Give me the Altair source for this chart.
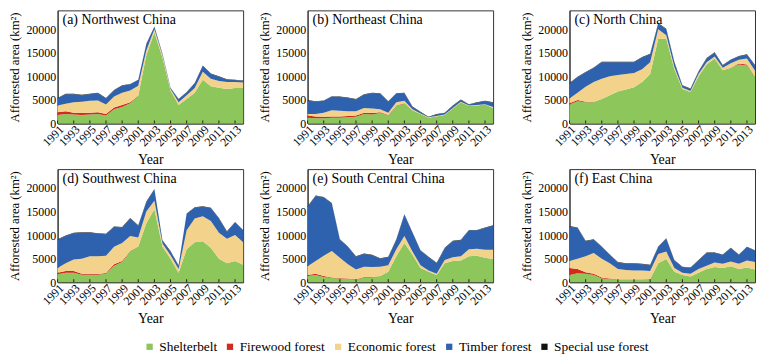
import altair as alt
import pandas as pd

years = list(range(1991, 2015))
tick_years = list(range(1991, 2014, 2))
categories = ["Shelterbelt", "Firewood forest", "Economic forest", "Timber forest", "Special use forest"]
colors = ["#8dc65b", "#d42a1e", "#f3d28c", "#2f62ae", "#111111"]
panel_titles = ["(a) Northwest China", "(b) Northeast China", "(c) North China",
                "(d) Southwest China", "(e) South Central China", "(f) East China"]

# (a) Northwest China
nw_shelter = [1800, 2000, 1900, 1800, 1900, 2000, 1700, 3000, 3500, 4300, 5800, 14500, 19300, 14000, 7000, 3900, 5200, 6500, 9300, 7900, 7600, 7300, 7500, 7500]
nw_firewood = [600, 600, 400, 400, 400, 400, 300, 400, 400, 200, 100, 0, 0, 0, 0, 0, 0, 0, 0, 0, 0, 0, 0, 0]
nw_economic = [1400, 1600, 2200, 2400, 2500, 2500, 2000, 2300, 2600, 2500, 2100, 1000, 700, 500, 300, 600, 800, 1000, 1700, 1600, 1400, 1500, 1300, 1200]
nw_timber = [1500, 2000, 1700, 1400, 1400, 1500, 1300, 1300, 1500, 1300, 1200, 1300, 500, 200, 200, 600, 600, 1000, 1200, 1000, 900, 500, 400, 300]
nw_special = [100, 100, 100, 100, 100, 100, 100, 100, 100, 100, 100, 100, 100, 100, 100, 100, 100, 100, 100, 100, 100, 100, 100, 100]

# (b) Northeast China
ne_shelter = [1200, 1100, 1100, 1200, 1200, 1300, 1400, 2000, 1900, 2200, 1700, 3700, 4200, 2800, 2000, 1200, 1500, 1800, 3200, 4500, 3700, 3800, 4000, 3300]
ne_firewood = [500, 400, 300, 300, 300, 300, 300, 300, 300, 200, 100, 100, 100, 0, 0, 0, 0, 0, 0, 0, 0, 0, 0, 0]
ne_economic = [300, 500, 900, 1300, 1200, 1000, 900, 1000, 1000, 600, 500, 700, 500, 200, 100, 100, 100, 100, 100, 100, 100, 100, 100, 200]
ne_timber = [2900, 2600, 2500, 2900, 2900, 2800, 2500, 2800, 3200, 3300, 2300, 1800, 1600, 500, 300, 0, 300, 300, 400, 400, 200, 500, 600, 900]
ne_special = [100, 100, 100, 100, 100, 100, 100, 100, 100, 100, 100, 100, 100, 100, 100, 100, 100, 100, 100, 100, 100, 100, 100, 100]

# (c) North China
n_shelter = [4000, 4700, 4500, 4500, 5200, 6000, 6800, 7200, 7700, 8800, 10500, 18000, 18000, 11500, 7300, 6700, 10000, 12500, 13800, 11300, 11800, 12500, 12300, 10000]
n_firewood = [300, 300, 100, 50, 0, 0, 0, 0, 0, 0, 0, 0, 0, 0, 0, 0, 0, 0, 0, 0, 0, 200, 200, 0]
n_economic = [1000, 1500, 3200, 4250, 4300, 4000, 3500, 3300, 3000, 2700, 2500, 2000, 700, 500, 300, 200, 500, 500, 400, 500, 1000, 800, 1300, 1200]
n_timber = [3200, 3300, 3000, 3000, 3500, 3000, 2700, 2500, 2300, 2500, 1700, 1200, 1300, 1000, 400, 400, 500, 800, 800, 500, 700, 700, 800, 1100]
n_special = [100, 100, 100, 100, 100, 100, 100, 100, 100, 100, 100, 100, 100, 100, 100, 100, 100, 100, 100, 100, 100, 100, 100, 100]

# (d) Southwest China
sw_shelter = [1700, 2000, 2000, 1600, 1600, 1600, 1800, 3500, 4300, 6500, 7500, 12500, 15500, 7500, 5000, 2000, 7000, 8500, 8700, 7300, 5000, 4000, 4500, 3700]
sw_firewood = [300, 400, 400, 200, 150, 150, 150, 300, 200, 100, 50, 0, 0, 0, 0, 0, 0, 0, 0, 0, 0, 0, 0, 0]
sw_economic = [1000, 1600, 2400, 3200, 3750, 3750, 3650, 3700, 3800, 3200, 1950, 2500, 1800, 700, 700, 800, 4000, 5000, 5300, 5700, 5500, 5200, 5500, 4800]
sw_timber = [6000, 5800, 5600, 5500, 5000, 4800, 4600, 4200, 3300, 3700, 2500, 2000, 2400, 600, 800, 700, 3500, 2300, 2000, 2700, 3000, 1500, 2700, 2500]
sw_special = [100, 100, 100, 100, 100, 100, 100, 100, 100, 100, 100, 100, 100, 100, 100, 100, 100, 100, 100, 100, 100, 100, 100, 100]

# (e) South Central China
sc_shelter = [1300, 1500, 1100, 900, 800, 700, 500, 1000, 1000, 1300, 2200, 5500, 8300, 5800, 3000, 2200, 1500, 4000, 4500, 4600, 5500, 5600, 5200, 4900]
sc_firewood = [200, 300, 200, 100, 100, 100, 100, 100, 100, 0, 0, 0, 0, 0, 0, 0, 0, 0, 0, 0, 0, 0, 0, 0]
sc_economic = [1900, 2700, 4300, 5600, 4300, 3000, 2100, 2200, 2100, 2000, 1400, 1500, 1500, 700, 600, 300, 300, 700, 800, 900, 1500, 1500, 1700, 2000]
sc_timber = [12600, 13800, 12400, 10100, 3800, 3700, 2700, 2700, 2500, 1700, 1700, 2000, 4500, 4000, 3100, 2800, 2200, 2500, 3400, 3400, 4000, 3900, 4600, 5100]
sc_special = [100, 100, 100, 100, 100, 100, 100, 100, 100, 100, 100, 100, 100, 100, 100, 100, 100, 100, 100, 100, 100, 100, 100, 100]

# (f) East China
e_shelter = [1500, 1900, 1800, 1500, 800, 700, 600, 600, 600, 600, 700, 4000, 4900, 2200, 1500, 1200, 2000, 2800, 3200, 3000, 3400, 2800, 3100, 2700]
e_firewood = [1500, 900, 300, 300, 200, 100, 50, 0, 0, 0, 0, 0, 0, 0, 0, 0, 0, 0, 0, 0, 0, 0, 0, 0]
e_economic = [1500, 2200, 3400, 4400, 4000, 3200, 2150, 2000, 1900, 1900, 1700, 2000, 1600, 800, 500, 600, 800, 700, 1000, 900, 1000, 1100, 1500, 1600]
e_timber = [7300, 6500, 3200, 2800, 2500, 1800, 1400, 1300, 1400, 1300, 1200, 1500, 2700, 1600, 1200, 1200, 1800, 2700, 2000, 1900, 2800, 1900, 2800, 2400]
e_special = [100, 100, 100, 100, 100, 100, 100, 100, 100, 100, 100, 100, 100, 100, 100, 100, 100, 100, 100, 100, 100, 100, 100, 100]

regions = [
    [nw_shelter, nw_firewood, nw_economic, nw_timber, nw_special],
    [ne_shelter, ne_firewood, ne_economic, ne_timber, ne_special],
    [n_shelter, n_firewood, n_economic, n_timber, n_special],
    [sw_shelter, sw_firewood, sw_economic, sw_timber, sw_special],
    [sc_shelter, sc_firewood, sc_economic, sc_timber, sc_special],
    [e_shelter, e_firewood, e_economic, e_timber, e_special],
]

FONT = "Liberation Serif"
W, H = 187, 114

xscale = alt.Scale(domain=[1991, 2014], nice=False, zero=False)
x_axis = alt.Axis(values=tick_years, format="d", labelAngle=-45,
                  labelAlign="right", labelBaseline="top",
                  labelOverlap=False, title="Year", titleFontSize=14,
                  grid=False, ticks=False, labelPadding=0, titlePadding=5)


def panel(i):
    rows = []
    for ci, cat in enumerate(categories):
        for yr, v in zip(years, regions[i][ci]):
            rows.append({"year": yr, "value": v, "category": cat, "ord": ci})
    df = pd.DataFrame(rows)
    area = alt.Chart(df).mark_area(interpolate="linear").encode(
        x=alt.X("year:Q", scale=xscale, axis=x_axis),
        y=alt.Y("value:Q", stack="zero",
                scale=alt.Scale(domain=[0, 24000], nice=False),
                axis=alt.Axis(values=[0, 5000, 10000, 15000, 20000], format="d",
                              title="Afforested area (km²)", titleFontSize=12.8,
                              grid=False, ticks=False, labelPadding=2, titlePadding=4)),
        color=alt.Color("category:N", scale=alt.Scale(domain=categories, range=colors),
                        legend=alt.Legend(orient="none", legendX=86, legendY=332,
                                          title=None, direction="horizontal",
                                          symbolType="square", symbolSize=40, symbolStrokeWidth=0,
                                          labelFontSize=13.5, labelFont=FONT, labelColor="#000",
                                          columnPadding=6, labelOffset=3, padding=0)),
        order=alt.Order("ord:Q", sort="ascending"),
    )
    ticks = alt.Chart(pd.DataFrame({"year": tick_years})).mark_rule(
        color="#222222", strokeWidth=1
    ).encode(x=alt.X("year:Q", scale=xscale, axis=x_axis), y=alt.value(H), y2=alt.value(H - 3))
    txt = alt.Chart(pd.DataFrame({"t": [panel_titles[i]]})).mark_text(
        align="left", baseline="top", font=FONT, fontSize=14, color="#000"
    ).encode(text="t:N", x=alt.value(5), y=alt.value(3))
    return alt.layer(area, ticks, txt).properties(width=W, height=H)


row1 = alt.hconcat(alt.hconcat(panel(0), panel(1), spacing=14), panel(2), spacing=26)
row2 = alt.hconcat(alt.hconcat(panel(3), panel(4), spacing=14), panel(5), spacing=26)

chart = alt.vconcat(row1, row2, spacing=0).properties(
    padding={"left": 0, "top": 0, "right": 0, "bottom": 0}
).configure_view(
    stroke="#333333", strokeWidth=1
).configure_axis(
    labelFont=FONT, titleFont=FONT, labelFontSize=12,
    labelColor="#000", titleColor="#000", titleFontWeight="normal",
    domainColor="#333333"
)

chart.save("out.html", embed_options={"renderer": "svg", "actions": False})
